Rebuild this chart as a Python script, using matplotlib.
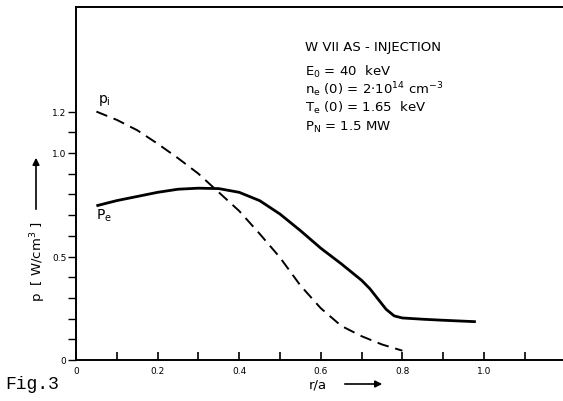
import matplotlib
matplotlib.use("Agg")
import matplotlib.pyplot as plt
from matplotlib.ticker import FixedLocator

# data
r_i = [0.05, 0.10, 0.15, 0.20, 0.25, 0.30, 0.35, 0.40, 0.45, 0.50, 0.55, 0.60, 0.65, 0.70, 0.75, 0.80]
p_i = [1.20, 1.16, 1.11, 1.045, 0.975, 0.90, 0.81, 0.72, 0.61, 0.495, 0.36, 0.25, 0.165, 0.115, 0.075, 0.045]

r_e = [0.05, 0.10, 0.15, 0.20, 0.25, 0.30, 0.35, 0.40, 0.45, 0.50, 0.55, 0.60, 0.65, 0.70,
       0.72, 0.74, 0.76, 0.78, 0.80, 0.85, 0.90, 0.98]
p_e = [0.745, 0.77, 0.79, 0.81, 0.825, 0.83, 0.828, 0.81, 0.77, 0.705, 0.625, 0.54, 0.465, 0.385,
       0.345, 0.295, 0.245, 0.213, 0.203, 0.197, 0.192, 0.185]

x_major = [0.0, 0.2, 0.4, 0.6, 0.8, 1.0]
x_major_labels = ["0", "0.2", "0.4", "0.6", "0.8", "1.0"]
x_minor = [0.1, 0.3, 0.5, 0.7, 0.9, 1.1]
y_major = [0.0, 0.5, 1.0, 1.2]
y_major_labels = ["0", "0.5", "1.0", "1.2"]
y_minor = [0.1, 0.2, 0.3, 0.4, 0.6, 0.7, 0.8, 0.9, 1.1]

info_title = "W VII AS - INJECTION"
info_lines = [r"E$_0$ = 40  keV",
              r"n$_e$ (0) = 2$\cdot$10$^{14}$ cm$^{-3}$",
              r"T$_e$ (0) = 1.65  keV",
              r"P$_N$ = 1.5 MW"]

plt.rcParams['font.family'] = ['DejaVu Sans']
plt.rcParams['mathtext.default'] = 'regular'

fig = plt.figure(figsize=(5.63, 4.02), dpi=100)
ax = fig.add_axes([76/563, 41/402, 1 - 76/563, (361-8)/402])
ax.set_xlim(0, (563-76)/408)
ax.set_ylim(0, (361-8)/207)

ax.plot(r_e, p_e, color="black", lw=2.0, solid_capstyle="butt", solid_joinstyle="round")
ax.plot(r_i, p_i, color="black", lw=1.4, dashes=(6, 3.5))

ax.spines['right'].set_visible(False)
for s in ['left', 'bottom', 'top']:
    ax.spines[s].set_linewidth(1.4)

ax.xaxis.set_major_locator(FixedLocator(x_major))
ax.set_xticklabels(x_major_labels)
ax.xaxis.set_minor_locator(FixedLocator(x_minor))
ax.yaxis.set_major_locator(FixedLocator(y_major))
ax.set_yticklabels(y_major_labels)
ax.yaxis.set_minor_locator(FixedLocator(y_minor))

ax.tick_params(axis='x', which='both', direction='in', length=6, width=1.2,
               labelsize=6.5, pad=4)
ax.tick_params(axis='y', which='both', direction='out', length=6, width=1.0,
               labelsize=6.5, pad=1)

ax.text(305/563, 1 - 47/402, info_title, transform=fig.transFigure,
        fontsize=9.5, ha='left', va='center')
ys = [72, 90, 108, 127]
for t, y in zip(info_lines, ys):
    ax.text(305/563, 1 - y/402, t, transform=fig.transFigure,
            fontsize=9.5, ha='left', va='center')

fig.text(98/563, 1 - 100/402, r"p$_i$", fontsize=10, ha='left', va='center')
fig.text(96/563, 1 - 216/402, r"P$_e$", fontsize=10, ha='left', va='center')

# y label with arrow
fig.text(38/563, 1 - 262/402, r"p  [ W/cm$^3$ ]", rotation=90, fontsize=9.5,
         ha='center', va='center')
fig.patches.append(matplotlib.patches.FancyArrowPatch(
    (36/563, 1 - 213/402), (36/563, 1 - 156/402), transform=fig.transFigure,
    arrowstyle='-|>', mutation_scale=10, lw=1.2, color='black'))

# x label with arrow
fig.text(318/563, 1 - 385/402, "r/a", fontsize=9.5, ha='center', va='center')
fig.patches.append(matplotlib.patches.FancyArrowPatch(
    (342/563, 1 - 385/402), (385/563, 1 - 385/402), transform=fig.transFigure,
    arrowstyle='-|>', mutation_scale=10, lw=1.2, color='black'))

fig.text(5/563, 1 - 385/402, "Fig.3", family='Liberation Mono', fontsize=13,
         ha='left', va='center')

fig.savefig("out.png", dpi=100)
